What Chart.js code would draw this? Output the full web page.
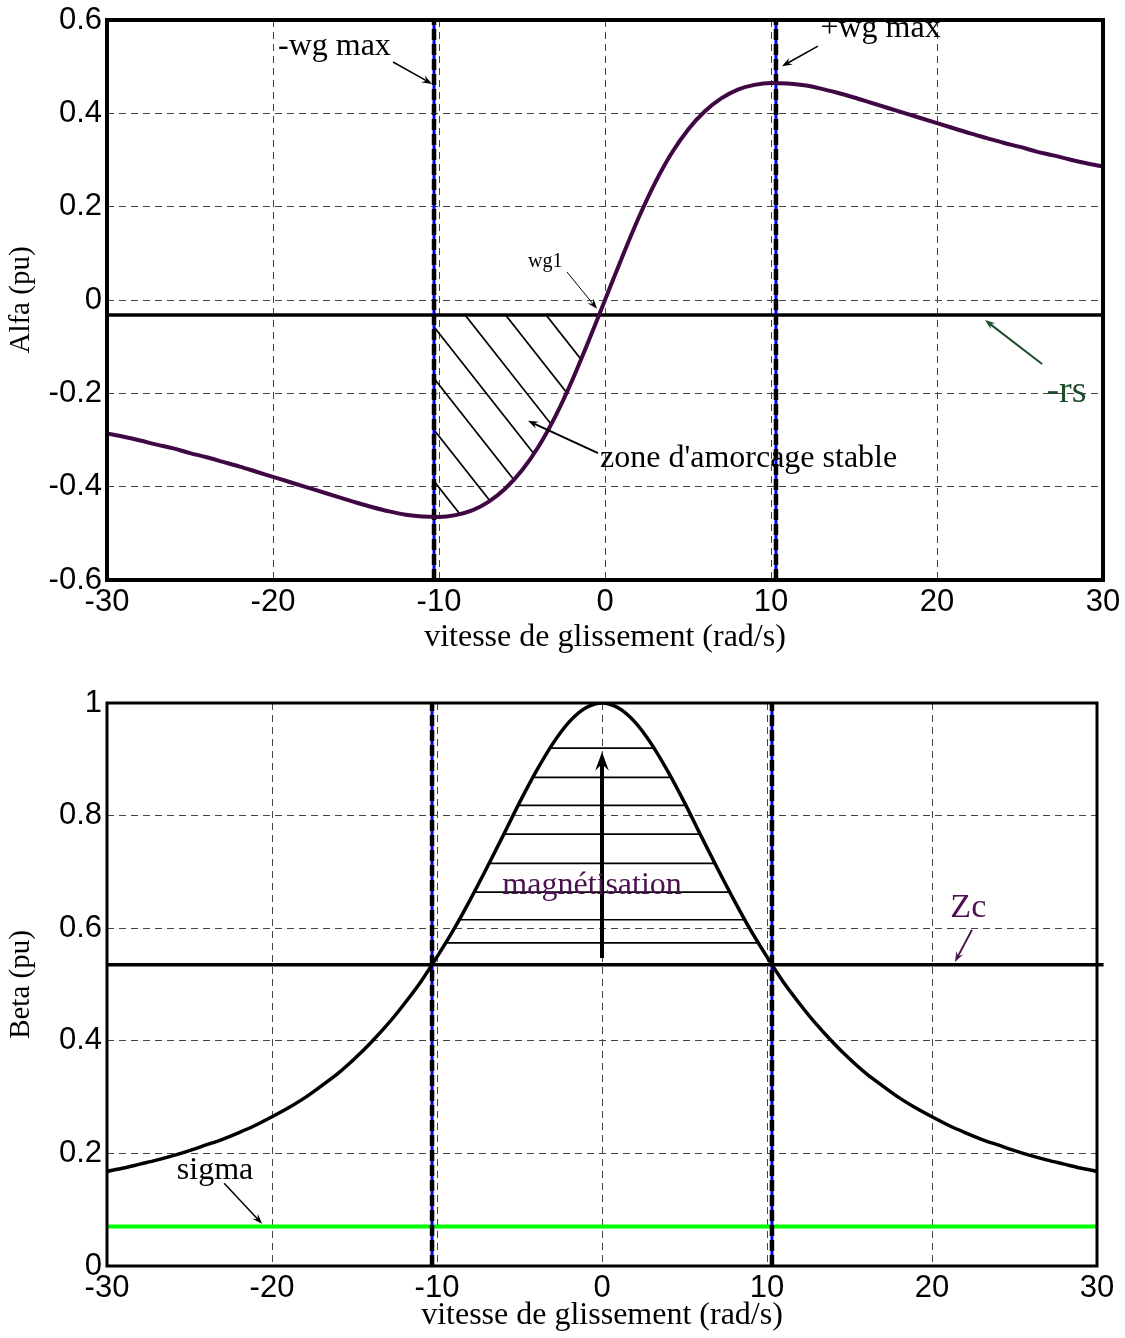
<!DOCTYPE html>
<html>
<head>
<meta charset="utf-8">
<script src="https://cdn.jsdelivr.net/npm/chart.js@4.4.0/dist/chart.umd.min.js"></script>
<style>
body { margin: 0; background: #fff; }
canvas { position: absolute; left: 0; }
#alfaChart { top: 0; }
#betaChart { top: 670px; }
</style>
</head>
<body>
<canvas id="alfaChart" width="1125" height="660"></canvas>
<canvas id="betaChart" width="1125" height="668"></canvas>
<script>
// vitesse de glissement (rad/s)
const wg = [-30, -29, -28, -27, -26, -25, -24, -23, -22, -21, -20, -19, -18, -17, -16, -15, -14, -13, -12, -11,
    -10, -9, -8, -7, -6, -5, -4, -3, -2, -1, 0, 1, 2, 3, 4, 5, 6, 7, 8, 9, 10,
    11, 12, 13, 14, 15, 16, 17, 18, 19, 20, 21, 22, 23, 24, 25, 26, 27, 28, 29, 30]
const alfa = [-0.286, -0.293, -0.301, -0.310, -0.318, -0.328, -0.337, -0.347, -0.357, -0.368,
    -0.379, -0.390, -0.401, -0.412, -0.423, -0.434, -0.444, -0.453, -0.460, -0.464,
    -0.465, -0.461, -0.451, -0.432, -0.404, -0.365, -0.314, -0.250, -0.174, -0.089,
    0, 0.089, 0.174, 0.250, 0.314, 0.365, 0.404, 0.432, 0.451, 0.461,
    0.465, 0.464, 0.460, 0.453, 0.444, 0.434, 0.423, 0.412, 0.401, 0.390,
    0.379, 0.368, 0.357, 0.347, 0.337, 0.328, 0.318, 0.310, 0.301, 0.293, 0.286]
const beta = [0.168, 0.174, 0.181, 0.188, 0.196, 0.205, 0.215, 0.225, 0.237, 0.250,
    0.265, 0.281, 0.299, 0.320, 0.342, 0.368, 0.397, 0.429, 0.465, 0.504,
    0.549, 0.597, 0.650, 0.706, 0.764, 0.823, 0.878, 0.927, 0.966, 0.991,
    1, 0.991, 0.966, 0.927, 0.878, 0.823, 0.764, 0.706, 0.650, 0.597,
    0.549, 0.504, 0.465, 0.429, 0.397, 0.368, 0.342, 0.320, 0.299, 0.281,
    0.265, 0.250, 0.237, 0.225, 0.215, 0.205, 0.196, 0.188, 0.181, 0.174, 0.168]

const xTicks = [-30, -20, -10, 0, 10, 20, 30]
const alfaTicks = [-0.6, -0.4, -0.2, 0, 0.2, 0.4, 0.6]
const betaTicks = [0, 0.2, 0.4, 0.6, 0.8, 1]

const wgMax = 10.3
const minusRs = -0.032
const zc = 0.535
const sigma = 0.07

// hachures de la zone d'amorcage stable : [x0, y0, x1, y1]
const alfaHatch = [[-3.55, -0.032, 8.45, -0.574], [-5.99, -0.032, 6.01, -0.574], [-8.43, -0.032, 3.57, -0.574],
    [-10.87, -0.032, 1.13, -0.574], [-13.31, -0.032, -1.31, -0.574], [-15.75, -0.032, -3.75, -0.574],
    [-18.19, -0.032, -6.19, -0.574]]
// hachures de magnetisation (niveaux de beta)
const betaHatch = [0.574, 0.615, 0.664, 0.715, 0.767, 0.818, 0.868, 0.920]

function toPoints(xs, ys) {
    return xs.map((v, i) => ({ x: v, y: ys[i] }))
}

function line(x0, y0, x1, y1, color, width, dash, order) {
    return {
        data: [{ x: x0, y: y0 }, { x: x1, y: y1 }],
        borderColor: color,
        borderWidth: width,
        borderDash: dash || [],
        pointRadius: 0,
        order: order
    }
}

function drawArrow(ctx, x0, y0, x1, y1, color, width, head) {
    const ang = Math.atan2(y1 - y0, x1 - x0)
    ctx.strokeStyle = color
    ctx.fillStyle = color
    ctx.lineWidth = width
    ctx.beginPath()
    ctx.moveTo(x0, y0)
    ctx.lineTo(x1 - Math.cos(ang) * head * 0.6, y1 - Math.sin(ang) * head * 0.6)
    ctx.stroke()
    ctx.beginPath()
    ctx.moveTo(x1, y1)
    ctx.lineTo(x1 - head * Math.cos(ang - 0.35), y1 - head * Math.sin(ang - 0.35))
    ctx.lineTo(x1 - head * 0.6 * Math.cos(ang), y1 - head * 0.6 * Math.sin(ang))
    ctx.lineTo(x1 - head * Math.cos(ang + 0.35), y1 - head * Math.sin(ang + 0.35))
    ctx.closePath()
    ctx.fill()
}

const notesPlugin = {
    id: 'notes',
    afterDatasetsDraw(chart, args, opts) {
        const ctx = chart.ctx
        const x = chart.scales.x
        const y = chart.scales.y
        ctx.save()
        ;(opts.arrows || []).forEach(a => {
            drawArrow(ctx, x.getPixelForValue(a.from[0]), y.getPixelForValue(a.from[1]),
                x.getPixelForValue(a.to[0]), y.getPixelForValue(a.to[1]), a.color || '#000', a.width || 1.5, a.head || 11)
        })
        ;(opts.texts || []).forEach(t => {
            ctx.font = t.font
            ctx.fillStyle = t.color || '#000'
            ctx.textAlign = t.align || 'center'
            ctx.textBaseline = 'middle'
            ctx.fillText(t.text, x.getPixelForValue(t.at[0]), y.getPixelForValue(t.at[1]))
        })
        ctx.restore()
    }
}

const hatchPlugin = {
    id: 'hatch',
    beforeDatasetsDraw(chart, args, opts) {
        if (!opts.lines) return
        const ctx = chart.ctx
        const x = chart.scales.x
        const y = chart.scales.y
        ctx.save()
        opts.clip(ctx, x, y)
        ctx.strokeStyle = '#000'
        ctx.lineWidth = 1.7
        opts.lines.forEach(l => {
            ctx.beginPath()
            ctx.moveTo(x.getPixelForValue(l[0]), y.getPixelForValue(l[1]))
            ctx.lineTo(x.getPixelForValue(l[2]), y.getPixelForValue(l[3]))
            ctx.stroke()
        })
        ctx.restore()
    }
}

const framePlugin = {
    id: 'frame',
    afterDraw(chart, args, opts) {
        const a = chart.chartArea
        const ctx = chart.ctx
        ctx.save()
        ctx.strokeStyle = '#000'
        ctx.lineWidth = opts.width
        ctx.strokeRect(a.left, a.top, a.right - a.left, a.bottom - a.top)
        ctx.restore()
    }
}

function axes(yMin, yMax, yTicks, yTitle, xHeight) {
    const tickFont = { family: 'Liberation Sans', size: 31, lineHeight: 1 }
    const grid = { color: '#444', lineWidth: 1, drawTicks: false }
    return {
        x: {
            type: 'linear', min: -30, max: 30,
            afterBuildTicks: s => { s.ticks = xTicks.map(v => ({ value: v })) },
            afterFit: s => {
                s.height = xHeight
                s.paddingLeft = 0
                s.paddingRight = 0
            },
            ticks: { font: tickFont, color: '#000', padding: 7, callback: v => String(v), maxRotation: 0 },
            grid: grid,
            border: { display: false, dash: [7, 5] },
            title: {
                display: true, text: 'vitesse de glissement (rad/s)', color: '#000',
                font: { family: 'Liberation Serif', size: 32 }, padding: { top: 0, bottom: 3 }
            }
        },
        y: {
            type: 'linear', min: yMin, max: yMax,
            afterBuildTicks: s => { s.ticks = yTicks.map(v => ({ value: v })) },
            afterFit: s => {
                s.width = 107
                s.paddingTop = 0
                s.paddingBottom = 0
            },
            ticks: { font: tickFont, color: '#000', padding: 5, callback: v => String(v) },
            grid: grid,
            border: { display: false, dash: [7, 5] },
            title: {
                display: true, text: yTitle, color: '#000',
                font: { family: 'Liberation Serif', size: 29 }, padding: { top: 4, bottom: 0 }
            }
        }
    }
}

const noteFont = '32px "Liberation Serif"'

function wgLines(y0, y1) {
    return [
        line(-wgMax, y0, -wgMax, y1, '#000', 4.5, [11, 4], 1),
        line(-wgMax, y0, -wgMax, y1, '#0000ff', 3, [], 2),
        line(wgMax, y0, wgMax, y1, '#000', 4.5, [11, 4], 1),
        line(wgMax, y0, wgMax, y1, '#0000ff', 3, [], 2)
    ]
}

new Chart(document.getElementById('alfaChart'), {
    type: 'line',
    data: {
        datasets: wgLines(-0.6, 0.6).concat([
            line(-30, minusRs, 30, minusRs, '#000', 3.5, [], 3),
            {
                data: toPoints(wg, alfa),
                borderColor: '#3f0845',
                borderWidth: 4,
                pointRadius: 0,
                cubicInterpolationMode: 'monotone',
                order: 0
            }
        ])
    },
    options: {
        responsive: false,
        animation: false,
        devicePixelRatio: 1,
        layout: { padding: { top: 20, right: 22, left: 0, bottom: 0 } },
        scales: axes(-0.6, 0.6, alfaTicks, 'Alfa (pu)', 80),
        plugins: {
            legend: { display: false },
            tooltip: { enabled: false },
            frame: { width: 4 },
            hatch: {
                lines: alfaHatch,
                clip: (ctx, x, y) => {
                    ctx.beginPath()
                    ctx.rect(x.getPixelForValue(-wgMax), y.getPixelForValue(minusRs), 2000, 2000)
                    ctx.clip()
                    ctx.beginPath()
                    ctx.moveTo(x.getPixelForValue(-30), y.getPixelForValue(minusRs))
                    ctx.lineTo(x.getPixelForValue(0), y.getPixelForValue(minusRs))
                    for (let i = wg.indexOf(0); i >= 0; i--) {
                        ctx.lineTo(x.getPixelForValue(wg[i]), y.getPixelForValue(alfa[i]))
                    }
                    ctx.closePath()
                    ctx.clip()
                }
            },
            notes: {
                texts: [
                    { text: '-wg max', at: [-16.3, 0.542], font: noteFont },
                    { text: '+wg max', at: [16.6, 0.581], font: noteFont },
                    { text: 'wg1', at: [-3.6, 0.081], font: '20px "Liberation Serif"' },
                    { text: "zone d'amorcage stable", at: [-0.3, -0.339], font: noteFont, align: 'left' },
                    { text: '-rs', at: [27.8, -0.197], font: '38px "Liberation Serif"', color: '#1e4d2b' }
                ],
                arrows: [
                    { from: [-12.77, 0.510], to: [-10.42, 0.463] },
                    { from: [12.83, 0.544], to: [10.66, 0.501] },
                    { from: [-2.29, 0.060], to: [-0.48, -0.019], width: 1 },
                    { from: [-0.42, -0.328], to: [-4.64, -0.259], width: 2 },
                    { from: [26.33, -0.137], to: [22.89, -0.043], width: 2, color: '#1e4d2b' }
                ]
            }
        }
    },
    plugins: [hatchPlugin, notesPlugin, framePlugin]
})

new Chart(document.getElementById('betaChart'), {
    type: 'line',
    data: {
        datasets: wgLines(0, 1).concat([
            Object.assign(line(-30, zc, 30.4, zc, '#000', 3.5, [], 3), { clip: { left: 0, top: 0, right: 10, bottom: 0 } }),
            line(-30, sigma, 30, sigma, '#00ff00', 4, [], 4),
            {
                data: toPoints(wg, beta),
                borderColor: '#000',
                borderWidth: 3.5,
                pointRadius: 0,
                cubicInterpolationMode: 'monotone',
                order: 0
            }
        ])
    },
    options: {
        responsive: false,
        animation: false,
        devicePixelRatio: 1,
        layout: { padding: { top: 33, right: 28, left: 0, bottom: 0 } },
        scales: axes(0, 1, betaTicks, 'Beta (pu)', 72),
        plugins: {
            legend: { display: false },
            tooltip: { enabled: false },
            frame: { width: 3 },
            hatch: {
                lines: betaHatch.map(v => [-wgMax, v, wgMax, v]),
                clip: (ctx, x, y) => {
                    ctx.beginPath()
                    ctx.moveTo(x.getPixelForValue(-30), y.getPixelForValue(0))
                    for (let i = 0; i < wg.length; i++) {
                        ctx.lineTo(x.getPixelForValue(wg[i]), y.getPixelForValue(beta[i]))
                    }
                    ctx.lineTo(x.getPixelForValue(30), y.getPixelForValue(0))
                    ctx.closePath()
                    ctx.clip()
                }
            },
            notes: {
                texts: [
                    { text: 'magnétisation', at: [-0.6, 0.675], font: noteFont, color: '#4b1150' },
                    { text: 'Zc', at: [22.2, 0.636], font: '34px "Liberation Serif"', color: '#4b1150' },
                    { text: 'sigma', at: [-23.45, 0.170], font: noteFont }
                ],
                arrows: [
                    { from: [0, 0.547], to: [0, 0.913], width: 4, head: 20 },
                    { from: [22.42, 0.597], to: [21.39, 0.540], width: 2, color: '#4b1150' },
                    { from: [-22.9, 0.147], to: [-20.6, 0.075], width: 1.5 }
                ]
            }
        }
    },
    plugins: [hatchPlugin, notesPlugin, framePlugin]
})
</script>
</body>
</html>
